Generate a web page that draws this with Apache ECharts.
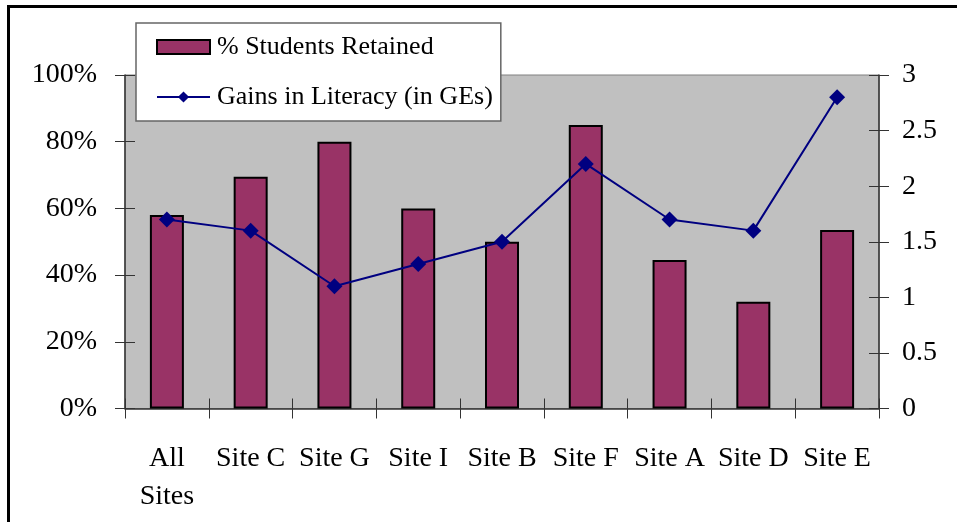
<!DOCTYPE html>
<html>
<head>
<meta charset="utf-8">
<script src="https://cdn.jsdelivr.net/npm/echarts@6/dist/echarts.min.js"></script>
<style>
  html, body { margin: 0; padding: 0; background: #fff; }
  #chart { width: 957px; height: 522px; }
</style>
</head>
<body>
<div id="chart"></div>
<script>
// data
const sites = ['All\nSites', 'Site C', 'Site G', 'Site I', 'Site B', 'Site F', 'Site A', 'Site D', 'Site E'];
const retained = [58, 69.5, 80, 60, 50, 85, 44.5, 32, 53.5];
const literacyGains = [1.7, 1.6, 1.1, 1.3, 1.5, 2.2, 1.7, 1.6, 2.8];

const font = "'Liberation Serif', 'Times New Roman', serif";
const axisColor = '#333';

const chart = echarts.init(document.getElementById('chart'));

const option = {
  backgroundColor: '#fff',
  animation: false,
  textStyle: { fontFamily: font, color: '#000' },
  graphic: [{
    type: 'rect',
    shape: { x: 8.5, y: 6.5, width: 1000, height: 600 },
    style: { fill: 'none', stroke: '#000', lineWidth: 3 },
    z: 100
  }],
  grid: {
    left: 125, right: 78, top: 75, bottom: 113.5,
    show: true,
    backgroundColor: '#c0c0c0',
    borderColor: '#808080',
    borderWidth: 1
  },
  legend: {
    orient: 'vertical',
    left: 136, top: 23,
    backgroundColor: '#fff',
    borderColor: '#666',
    borderWidth: 1.5,
    borderRadius: 0,
    padding: [11, 8, 11, 20],
    itemGap: 24,
    itemWidth: 53,
    itemHeight: 14,
    textStyle: { fontFamily: font, fontSize: 26, color: '#000', padding: [0, 0, 0, 2] },
    data: [
      { name: '% Students Retained', icon: 'rect' },
      { name: 'Gains in Literacy (in GEs)' }
    ]
  },
  xAxis: [{
    type: 'category',
    data: sites,
    position: 'bottom',
    axisLine: { lineStyle: { color: axisColor, width: 1.5 } },
    axisTick: { show: true, length: 10, lineStyle: { color: axisColor } },
    axisLabel: { margin: 31, fontSize: 28, lineHeight: 38, color: '#000', fontFamily: font, interval: 0 }
  }, {
    type: 'category',
    data: sites,
    position: 'bottom',
    axisLine: { show: false },
    axisTick: { show: true, inside: true, length: 10, lineStyle: { color: axisColor } },
    axisLabel: { show: false }
  }],
  yAxis: [{
    type: 'value',
    min: 0, max: 100, interval: 20,
    position: 'left',
    splitLine: { show: false },
    axisLine: { show: true, lineStyle: { color: axisColor, width: 1.5 } },
    axisTick: { show: true, length: 10, lineStyle: { color: axisColor } },
    axisLabel: { formatter: '{value}%', margin: 28, fontSize: 28, color: '#000', fontFamily: font }
  }, {
    type: 'value',
    min: 0, max: 100, interval: 20,
    position: 'left',
    splitLine: { show: false },
    axisLine: { show: false },
    axisTick: { show: true, inside: true, length: 10, lineStyle: { color: axisColor } },
    axisLabel: { show: false }
  }, {
    type: 'value',
    min: 0, max: 3, interval: 0.5,
    position: 'right',
    splitLine: { show: false },
    axisLine: { show: true, lineStyle: { color: axisColor, width: 1.5 } },
    axisTick: { show: true, length: 10, lineStyle: { color: axisColor } },
    axisLabel: { margin: 23, fontSize: 28, color: '#000', fontFamily: font }
  }, {
    type: 'value',
    min: 0, max: 3, interval: 0.5,
    position: 'right',
    splitLine: { show: false },
    axisLine: { show: false },
    axisTick: { show: true, inside: true, length: 10, lineStyle: { color: axisColor } },
    axisLabel: { show: false }
  }],
  series: [{
    name: '% Students Retained',
    type: 'bar',
    yAxisIndex: 0,
    data: retained,
    barWidth: 34,
    itemStyle: { color: '#993366', borderColor: '#000', borderWidth: 2 }
  }, {
    name: 'Gains in Literacy (in GEs)',
    type: 'line',
    yAxisIndex: 2,
    data: literacyGains,
    symbol: 'diamond',
    symbolSize: 16,
    itemStyle: { color: '#000080' },
    lineStyle: { color: '#000080', width: 2 }
  }]
};

chart.setOption(option);
</script>
</body>
</html>
